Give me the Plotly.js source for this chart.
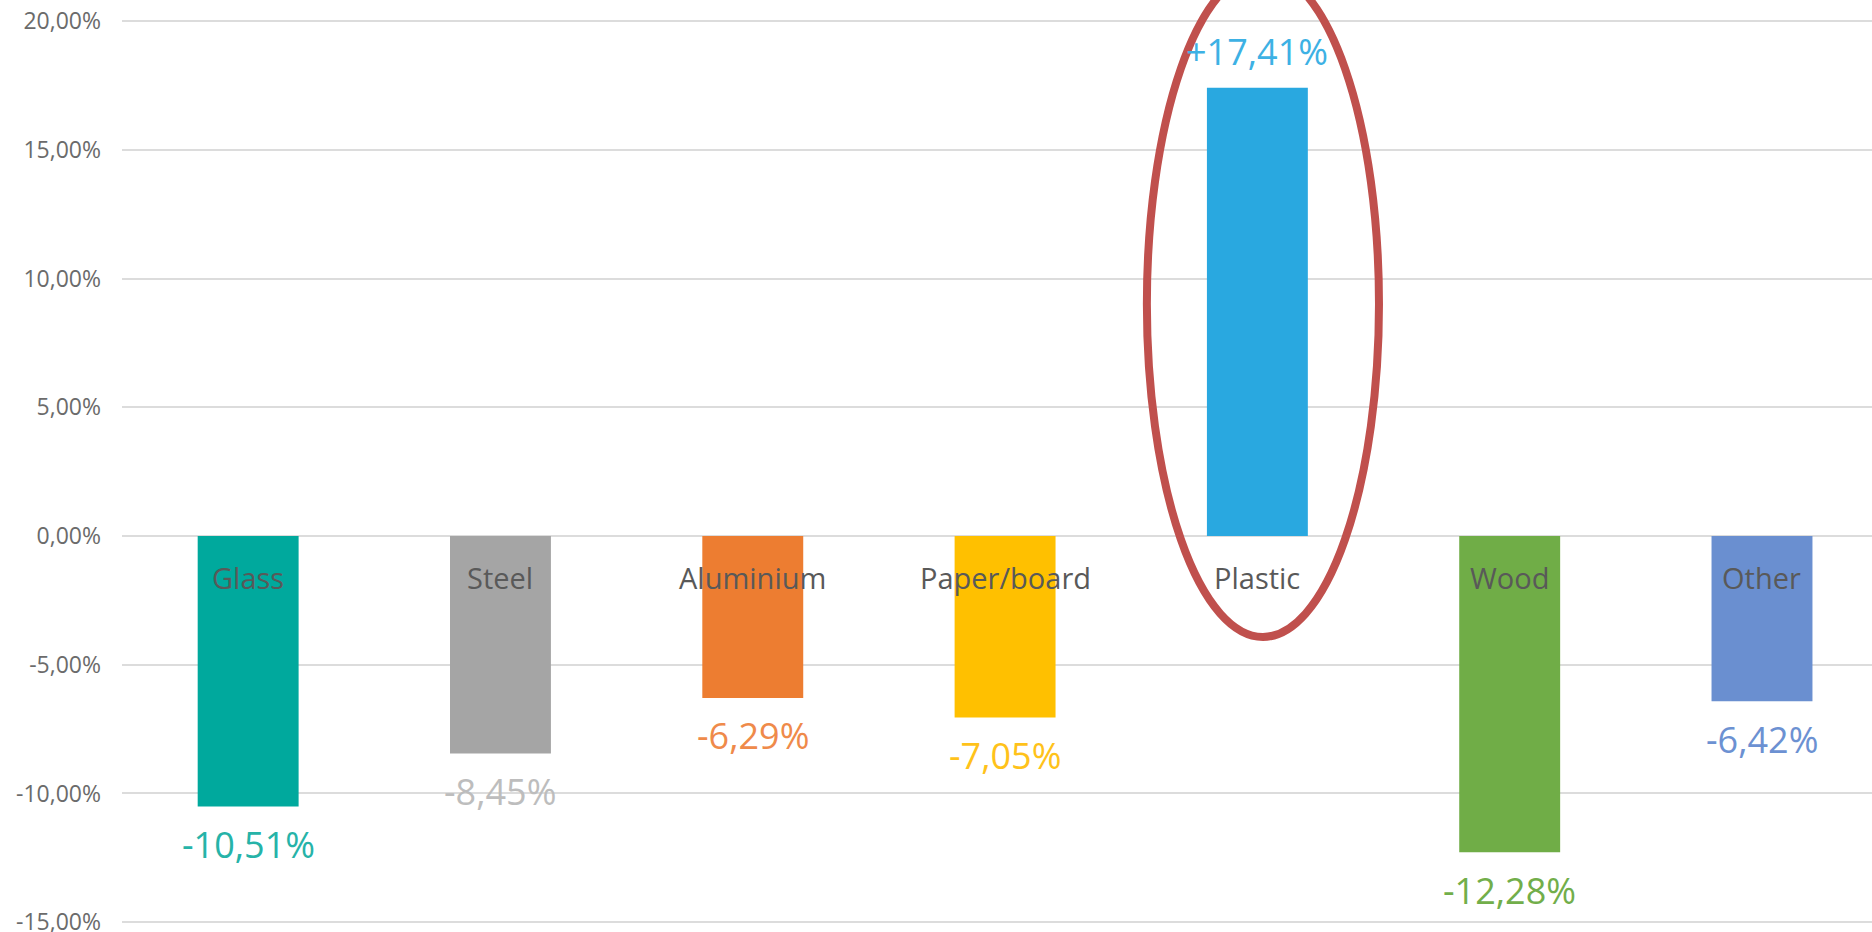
<!DOCTYPE html>
<html>
<head>
<meta charset="utf-8">
<script src="https://cdn.plot.ly/plotly-3.0.1.min.js"></script>
<style>html,body{margin:0;padding:0;background:#fff;}#chart{width:1872px;height:932px;}</style>
</head>
<body>
<div id="chart"></div>
<script>
// ---- data ----
const categories = ["Glass", "Steel", "Aluminium", "Paper/board", "Plastic", "Wood", "Other"];
const values = [-10.51, -8.45, -6.29, -7.05, 17.41, -12.28, -6.42];
const tickVals = [-15, -10, -5, 0, 5, 10, 15, 20];
const tickLabels = ["-15,00%", "-10,00%", "-5,00%", "0,00%", "5,00%", "10,00%", "15,00%", "20,00%"];
const highlighted = "Plastic";

// ---- styles ----
const barColors = ["#00A99D", "#A5A5A5", "#ED7D31", "#FFC000", "#29A8E0", "#70AD47", "#6A8FD0"];
const labelColors = ["#26B3A8", "#BDBDBD", "#EF8A4A", "#FFC21A", "#3DB1E4", "#72AE4A", "#6C91D2"];

function fmt(v) {
  return (v > 0 ? "+" : "") + v.toFixed(2).replace(".", ",") + "%";
}

const trace = {
  type: "bar",
  x: categories,
  y: values,
  marker: { color: barColors, line: { width: 0 } },
  hoverinfo: "skip"
};

const annotations = [];
categories.forEach((c, i) => {
  // value label
  annotations.push({
    x: c, y: values[i], xref: "x", yref: "y",
    text: fmt(values[i]), showarrow: false,
    yanchor: "middle", xanchor: "center",
    yshift: values[i] >= 0 ? 36 : -38,
    font: { family: "Open Sans", size: 36, color: labelColors[i] }
  });
  // category label under zero line
  annotations.push({
    x: c, y: 0, xref: "x", yref: "y",
    text: c, showarrow: false,
    yanchor: "middle", xanchor: "center",
    yshift: -41,
    font: { family: "Open Sans", size: 29, color: "#595959" }
  });
});

const hi = categories.indexOf(highlighted);

const layout = {
  width: 1872, height: 932,
  margin: { l: 122, r: 0, t: 0, b: 0, pad: 0 },
  paper_bgcolor: "#ffffff",
  plot_bgcolor: "#ffffff",
  showlegend: false,
  bargap: 0.6,
  xaxis: {
    type: "category",
    range: [-0.5, 6.436],
    showticklabels: false,
    showgrid: false, zeroline: false, showline: false, ticks: ""
  },
  yaxis: {
    range: [-15.38, 20.82],
    tickvals: tickVals,
    ticktext: tickLabels,
    showgrid: true, gridcolor: "#DCDCDC", gridwidth: 2,
    zeroline: true, zerolinecolor: "#DCDCDC", zerolinewidth: 2,
    showline: false, ticks: "",
    ticklabelstandoff: 20,
    ticklabeloverflow: "allow",
    tickfont: { family: "Open Sans", size: 23, color: "#6B6B6B" }
  },
  annotations: annotations,
  shapes: [{
    type: "circle", xref: "x", yref: "y",
    x0: hi - 0.438, x1: hi + 0.482,
    y0: -3.92, y1: 21.95,
    line: { color: "#C0504D", width: 8 },
    fillcolor: "rgba(0,0,0,0)",
    layer: "above"
  }]
};

Plotly.newPlot("chart", [trace], layout, { staticPlot: true, displayModeBar: false });
</script>
</body>
</html>
